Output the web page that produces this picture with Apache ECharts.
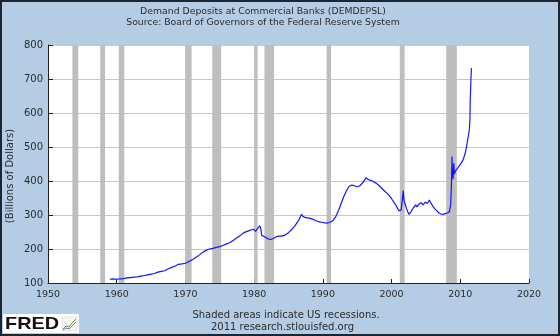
<!DOCTYPE html>
<html>
<head>
<meta charset="utf-8">
<script src="https://cdn.jsdelivr.net/npm/echarts@6/dist/echarts.min.js"></script>
<style>
  html, body { margin: 0; padding: 0; background: #b4cde4; }
  #chart { width: 560px; height: 336px; }
</style>
</head>
<body>
<div id="chart"></div>
<script>
// Demand deposits at commercial banks, billions of dollars (decimal year, value)
const dates = [
  1959.0, 1959.5, 1960.0, 1960.5, 1961.0, 1961.5, 1962.0, 1962.5, 1963.0, 1963.5,
  1964.0, 1964.5, 1965.0, 1965.5, 1966.0, 1966.5, 1967.0, 1967.5, 1968.0, 1968.5,
  1969.0, 1969.5, 1970.0, 1970.5, 1971.0, 1971.5, 1972.0, 1972.5, 1973.0, 1973.5,
  1974.0, 1974.5, 1975.0, 1975.5, 1976.0, 1976.5, 1977.0, 1977.5, 1978.0, 1978.5,
  1979.0, 1979.5, 1979.9, 1980.2, 1980.5, 1980.8, 1980.95, 1981.1, 1981.5, 1982.0,
  1982.4, 1982.8, 1983.2, 1983.6, 1984.0, 1984.5, 1985.0, 1985.5, 1986.0, 1986.5,
  1986.9, 1987.1, 1987.5, 1988.0, 1988.5, 1989.0, 1989.5, 1990.0, 1990.5, 1991.0,
  1991.5, 1991.9, 1992.3, 1992.7, 1993.0, 1993.4, 1993.8, 1994.2, 1994.6, 1995.0,
  1995.4, 1995.7, 1996.0, 1996.3, 1996.6, 1997.0, 1997.4, 1997.8, 1998.2, 1998.6,
  1999.0, 1999.4, 1999.8, 2000.2, 2000.6, 2000.9, 2001.1, 2001.4, 2001.6, 2001.7,
  2001.8, 2001.95, 2002.2, 2002.5, 2002.6, 2002.8, 2003.0, 2003.2, 2003.5, 2003.7,
  2003.9, 2004.1, 2004.3, 2004.6, 2004.9, 2005.2, 2005.5, 2005.7, 2006.0, 2006.3,
  2006.6, 2006.9, 2007.2, 2007.5, 2007.8, 2008.1, 2008.4, 2008.6, 2008.7, 2008.8,
  2008.85, 2008.95, 2009.05, 2009.15, 2009.3, 2009.5, 2009.7, 2009.9, 2010.1, 2010.4,
  2010.7, 2010.9, 2011.1, 2011.3, 2011.4, 2011.45, 2011.55, 2011.62
];
const deposits = [
  111, 112, 111, 112, 113, 115, 116, 117, 118, 120,
  122, 124, 126, 128, 132, 134, 136, 142, 146, 150,
  155, 156, 158, 163, 168, 175, 182, 190, 196, 200,
  202, 205, 207, 211, 215, 219, 226, 233, 240, 248,
  252, 256, 258, 252, 260, 268, 262, 240, 236, 230,
  228, 231, 236, 238, 238, 241, 248, 258, 270, 285,
  302, 296, 292, 291, 288, 283, 280, 278, 276, 278,
  284, 296, 314, 336, 352, 370, 384, 388, 386, 383,
  386, 393, 400, 410, 404, 402, 398, 393, 386, 378,
  370, 363, 354, 342, 330, 318, 312, 315, 318, 372,
  345, 333, 318, 302, 297, 308, 316, 322, 330, 324,
  330, 325, 336, 330, 338, 334, 344, 336, 326, 318,
  312, 306, 303, 302, 304, 306, 309, 330, 380, 472,
  430, 405, 452, 420, 430, 435, 440, 442, 452, 462,
  480, 500, 525, 548, 580, 640, 700, 732
];
// US recession periods (start, end)
const recessions = [
  [1953.55, 1954.4], [1957.6, 1958.3], [1960.3, 1961.1], [1969.95, 1970.9],
  [1973.9, 1975.2], [1980.0, 1980.5], [1981.5, 1982.9], [1990.55, 1991.2],
  [2001.2, 2001.9], [2007.95, 2009.5]
];
const yTicks = [100, 200, 300, 400, 500, 600, 700, 800];
const xTicks = [1950, 1960, 1970, 1980, 1990, 2000, 2010, 2020];

const font = 'DejaVu Sans';
const textColor = '#2b2b2b';

const chart = echarts.init(document.getElementById('chart'), null, { renderer: 'canvas' });

// centred single-line text
function label(text, x, y, size, rotation) {
  return {
    type: 'text', x: x, y: y, rotation: rotation || 0, silent: true, z: 20,
    style: {
      text: text, font: size + 'px "' + font + '"', fill: textColor,
      textAlign: 'center', textVerticalAlign: 'middle'
    }
  };
}

chart.setOption({
  backgroundColor: '#b4cde4',
  animation: false,
  grid: { left: 48, right: 31, top: 45, bottom: 53, show: true, backgroundColor: '#ffffff', borderWidth: 0 },
  xAxis: {
    type: 'value', min: xTicks[0], max: xTicks[xTicks.length - 1], interval: 10,
    axisLine: { show: true, lineStyle: { color: '#222', width: 1 } },
    axisTick: { show: true, inside: true, length: 4, lineStyle: { color: '#222' } },
    splitLine: { show: false },
    axisLabel: { fontFamily: font, fontSize: 9.5, color: textColor, margin: 7, formatter: v => String(v) }
  },
  yAxis: {
    type: 'value', min: yTicks[0], max: yTicks[yTicks.length - 1], interval: 100,
    axisLine: { show: true, lineStyle: { color: '#222', width: 1 } },
    axisTick: { show: true, inside: true, length: 5, lineStyle: { color: '#222' } },
    splitLine: { show: true, lineStyle: { color: '#c8c8c8', width: 1 } },
    axisLabel: { fontFamily: font, fontSize: 10, color: textColor, margin: 5 }
  },
  series: [
    {
      name: 'recessions', type: 'line', data: [], silent: true, z: 1,
      markArea: {
        silent: true,
        itemStyle: { color: '#bebebe' },
        data: recessions.map(r => [{ xAxis: r[0] }, { xAxis: r[1] }])
      }
    },
    {
      name: 'DEMDEPSL', type: 'line', z: 3,
      data: dates.map((d, i) => [d, deposits[i]]),
      showSymbol: false, smooth: false,
      lineStyle: { color: '#1414ff', width: 1.2 },
      itemStyle: { color: '#1414ff' }
    }
  ],
  graphic: [
    // titles and notes
    label('Demand Deposits at Commercial Banks (DEMDEPSL)', 263, 11.5, 9.3),
    label('Source: Board of Governors of the Federal Reserve System', 263, 23, 9.3),
    label('Shaded areas indicate US recessions.', 286, 315.5, 10),
    label('2011 research.stlouisfed.org', 282.5, 327.3, 10),
    label('(Billions of Dollars)', 10.5, 176, 10, Math.PI / 2),
    // frame around the whole figure
    { type: 'rect', shape: { x: 1, y: 1, width: 558, height: 334 }, style: { fill: 'none', stroke: '#1c2633', lineWidth: 2 }, silent: true, z: 100 },
    // FRED badge
    { type: 'rect', shape: { x: 3, y: 314, width: 76, height: 19 }, style: { fill: '#ffffff' }, silent: true, z: 10 },
    { type: 'text', x: 5, y: 316, scaleX: 1.17, style: { text: 'FRED', font: 'bold 17px "Liberation Sans"', fill: '#111111' }, silent: true, z: 11 },
    { type: 'rect', shape: { x: 62, y: 317, width: 15, height: 14 }, style: { fill: '#f4f4f4', stroke: '#d0d0d0', lineWidth: 0.5 }, silent: true, z: 11 },
    { type: 'polyline', shape: { points: [[63, 329], [66, 326], [69, 327], [72, 323], [76, 319]] }, style: { fill: 'none', stroke: '#6a9a3a', lineWidth: 1 }, silent: true, z: 12 },
    { type: 'polyline', shape: { points: [[63, 330], [66, 328], [69, 329], [72, 326], [76, 322]] }, style: { fill: 'none', stroke: '#5a7ec0', lineWidth: 1 }, silent: true, z: 12 }
  ]
});
</script>
</body>
</html>
